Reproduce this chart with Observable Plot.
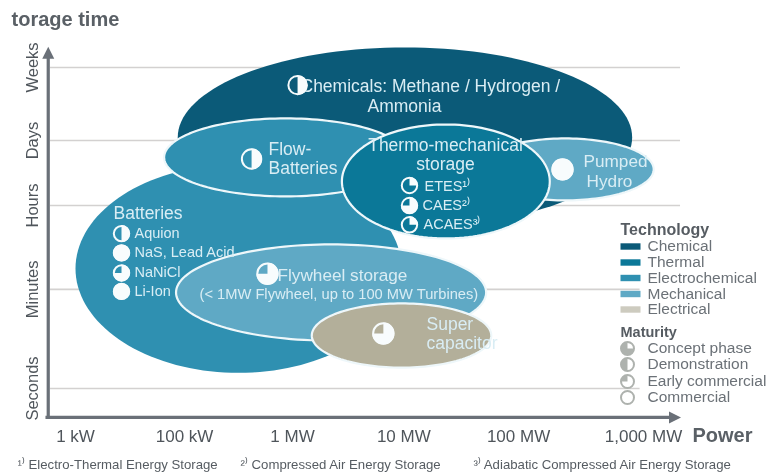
<!DOCTYPE html>
<html>
<head>
<meta charset="utf-8">
<script src="https://cdn.jsdelivr.net/npm/d3@7"></script>
<script src="https://cdn.jsdelivr.net/npm/@observablehq/plot@0.6"></script>
<style>
html,body{margin:0;padding:0;background:#fff;overflow:hidden}
svg{display:block;max-width:none;filter:blur(.55px)}
</style>
</head>
<body>
<div id="chart"></div>
<script>
// Axis categories, positions in power / time steps
const powerLabels = ["1 kW","100 kW","1 MW","10 MW","100 MW","1,000 MW"];
const powerPos = [0,0.96,1.91,2.89,3.90,5];
const timeLabels = ["Seconds","Minutes","Hours","Days","Weeks"];
const timePos = [0,1.235,2.28,3.09,4];

// Technology regions, drawing order
const regionNames = ["Chemical","Batteries","Flow","Pumped","Thermal","Flywheel","Super"];
const regionTech  = ["Chemical","Electrochemical","Electrochemical","Mechanical","Thermal","Mechanical","Electrical"];
const regionPower = [2.90,1.435,1.85,4.31,3.26,2.25,2.87];
const regionTime  = [3.13,1.495,2.88,2.73,2.58,1.196,0.66];
const regionPowerRadius = [2.00,1.435,1.07,0.78,0.915,1.365,0.79];
const regionTimeRadius  = [1.12,1.30,0.486,0.386,0.71,0.60,0.40];

// Maturity balls
const ballNames = ["Chemicals","Flow-Batteries","Pumped Hydro","Aquion","NaS, Lead Acid","NaNiCl","Li-Ion","ETES","CAES","ACAES","Flywheel","Super capacitor"];
const ballPower = [1.955,1.55,4.287,0.405,0.405,0.405,0.405,2.94,2.94,2.94,1.69,2.71];
const ballTime  = [3.78,2.86,2.73,1.93,1.69,1.44,1.21,2.53,2.28,2.04,1.43,0.685];
const ballMaturity = ["Demonstration","Demonstration","Commercial","Demonstration","Commercial","Early commercial","Commercial","Concept phase","Early commercial","Concept phase","Early commercial","Early commercial"];
const ballRadius = [10,10.5,11,8.5,8.5,8.5,8.5,8.5,8.5,8.5,11,11];

// Legend
const techNames = ["Chemical","Thermal","Electrochemical","Mechanical","Electrical"];
const techFill = ["#0b5a78","#0b7898","#2f90b1","#5fa9c5","#b3af9a"];
const maturityNames = ["Concept phase","Demonstration","Early commercial","Commercial"];
const footnotes = ["¹⁾ Electro-Thermal Energy Storage","²⁾ Compressed Air Energy Storage","³⁾ Adiabatic Compressed Air Energy Storage"];

const TAU = 2*Math.PI;
const wedge = (a0,a1) => ({draw(ctx,size){
  const r = Math.sqrt(size/Math.PI);
  if (a1-a0 >= TAU-1e-6) { ctx.moveTo(r,0); ctx.arc(0,0,r,0,TAU); ctx.closePath(); return; }
  ctx.moveTo(0,0); ctx.arc(0,0,r,a0,a1); ctx.closePath();
}});
const maturityShape = {
  "Concept phase": wedge(-Math.PI/2,0),
  "Demonstration": wedge(-Math.PI/2,Math.PI/2),
  "Early commercial": wedge(-Math.PI/2,Math.PI),
  "Commercial": wedge(0,TAU)
};
const legendShape = {
  "Concept phase": wedge(0,Math.PI*1.5),
  "Demonstration": wedge(Math.PI/2,Math.PI*1.5),
  "Early commercial": wedge(Math.PI,Math.PI*1.5)
};
const techColor = Object.fromEntries(techNames.map((t,i)=>[t,techFill[i]]));

// Region outlines traced round each centre and radius pair
const outlines = regionNames.flatMap((name,i)=>d3.range(0,144).map(k=>{
  const t = k/144*TAU;
  return {name,tech:regionTech[i],
    x:regionPower[i]+regionPowerRadius[i]*Math.cos(t),
    y:regionTime[i]+regionTimeRadius[i]*Math.sin(t)};
}));
const balls = ballNames.map((name,i)=>({name,x:ballPower[i],y:ballTime[i],m:ballMaturity[i],r:ballRadius[i]}));

const regionMarks = regionNames.map(n=>{
  const tech = regionTech[regionNames.indexOf(n)];
  return Plot.line(outlines.filter(d=>d.name===n),{x:"x",y:"y",curve:"linear-closed",fill:techColor[tech],
    stroke:n==="Chemical"||n==="Batteries"?"none":"#eef7fa",strokeWidth:2.2});
});

// Page-placed text: left and vertical middle are distances from the frame's top-left corner
const label = (s,left,mid,o={}) => Plot.text([s],{text:d=>d,frameAnchor:"top-left",dx:left,dy:mid,textAnchor:"start",lineAnchor:"middle",fontSize:14,fill:"#5f666d",...o});
const white = "#d9edf4";
const inner = (s,left,mid,size,o={}) => label(s,left,mid,{fill:white,fontSize:size,...o});

const swatch = {draw(ctx,size){ ctx.rect(-10,-3.2,20,6.4); }};
const tipUp = {draw(ctx){ ctx.moveTo(0,0); ctx.lineTo(6,12); ctx.lineTo(-6,12); ctx.closePath(); }};
const tipRight = {draw(ctx){ ctx.moveTo(0,0); ctx.lineTo(-12,6); ctx.lineTo(-12,-6); ctx.closePath(); }};
const axisGrey = "#6a7078";
const techRows = [246,262,277.5,293.5,309];
const maturityRows = [348,364,381,397];

const marks = [
  Plot.ruleY(timePos.slice(2),{y:d=>d,x1:-0.22,x2:5.326,stroke:"#d3d1d0",strokeWidth:1.6}),
  Plot.ruleY(timePos.slice(0,2),{y:d=>d,x1:-0.22,x2:4.97,stroke:"#d3d1d0",strokeWidth:1.6}),
  Plot.ruleX([-0.24],{y1:-0.36,y2:4.2,stroke:axisGrey,strokeWidth:3.2}),
  Plot.ruleY([-0.36],{x1:-0.26,x2:5.25,stroke:axisGrey,strokeWidth:3.2}),
  Plot.dot([{x:-0.24,y:4.26}],{x:"x",y:"y",symbol:tipUp,fill:axisGrey,r:5}),
  Plot.dot([{x:5.33,y:-0.36}],{x:"x",y:"y",symbol:tipRight,fill:axisGrey,r:5}),
  ...regionMarks,

  Plot.text(powerLabels,{text:d=>d,x:(d,i)=>powerPos[i],frameAnchor:"top",dy:436,lineAnchor:"middle",fontSize:17,fill:"#4f555b"}),
  Plot.text(timeLabels,{text:d=>d,y:(d,i)=>timePos[i],frameAnchor:"left",dx:32,rotate:-90,textAnchor:"middle",lineAnchor:"middle",fontSize:16.5,fill:"#4f555b"}),
  label("torage time",11,19,{fontWeight:"bold",fontSize:20,fill:"#5a6066"}),
  label("Power",692,435,{fontWeight:"bold",fontSize:20,fill:"#5a6066"}),

  inner("Chemicals: Methane / Hydrogen /",300,86,17.5),
  inner("Ammonia",404,106,17.5,{textAnchor:"middle"}),
  inner("Flow-",268,149,17.5),
  inner("Batteries",268,168,17.5),
  inner("Thermo-mechanical",445,145,17.5,{textAnchor:"middle"}),
  inner("storage",445,164,17.5,{textAnchor:"middle"}),
  inner("ETES¹⁾",424,186,14.5),
  inner("CAES²⁾",422,205,14.5),
  inner("ACAES³⁾",423,224,14.5),
  inner("Pumped",615,160.5,17.2,{textAnchor:"middle"}),
  inner("Hydro",609,180.5,17.2,{textAnchor:"middle"}),
  inner("Batteries",113,213,17.5),
  inner("Aquion",134,233,14.5),
  inner("NaS, Lead Acid",134,252,14.5),
  inner("NaNiCl",134,272,14.5),
  inner("Li-Ion",134,291,14.5),
  inner("Flywheel storage",277,275,17.2),
  inner("(< 1MW Flywheel, up to 100 MW Turbines)",199,294,14.7),
  inner("Super",426,324,17.5),
  inner("capacitor",426,343,17.5),

  Plot.dot(balls,{x:"x",y:"y",r:d=>d.r-0.8,stroke:"#f6fbfc",strokeWidth:2,fill:"none"}),
  ...maturityNames.map(m=>Plot.dot(balls.filter(d=>d.m===m),{x:"x",y:"y",r:d=>d.r,symbol:maturityShape[m],fill:"#f8fcfd"})),

  label("Technology",620,229,{fontWeight:"bold",fontSize:16,fill:"#565c62"}),
  ...techNames.map((t,i)=>label(t,647,techRows[i],{fontSize:15.5,fill:"#6b7177"})),
  ...techNames.map((t,i)=>Plot.dot([t],{frameAnchor:"top-left",dx:630,dy:techRows[i],symbol:swatch,r:5,fill:t==="Electrical"?"#cdcbbf":techColor[t]})),
  label("Maturity",620,332,{fontWeight:"bold",fontSize:14.5,fill:"#565c62"}),
  ...maturityNames.map((m,i)=>label(m,647,maturityRows[i],{fontSize:15.5,fill:"#6b7177"})),
  ...maturityNames.map((m,i)=>Plot.dot([m],{frameAnchor:"top-left",dx:627,dy:maturityRows[i],r:6.5,fill:"#fff",stroke:"#aeb2ae",strokeWidth:2})),
  ...maturityNames.filter(m=>legendShape[m]).map((m,i)=>Plot.dot([m],{frameAnchor:"top-left",dx:627,dy:maturityRows[i],r:6.5,symbol:legendShape[m],fill:"#aeb2ae"})),

  label(footnotes[0],17,464,{fontSize:13.2,fill:"#565c62"}),
  label(footnotes[1],240,464,{fontSize:13.2,fill:"#565c62"}),
  label(footnotes[2],473,464,{fontSize:13.2,fill:"#565c62"})
];

const chart = Plot.plot({
  width:772,height:476,margin:0,
  style:{fontFamily:"'Liberation Sans',Arial,sans-serif",background:"#fff",overflow:"hidden"},
  x:{axis:null,type:"linear",domain:[0,5],range:[75,643]},
  y:{axis:null,type:"linear",domain:[0,4],range:[388,67]},
  r:{type:"identity"},
  marks
});
document.getElementById("chart").append(chart);
</script>
</body>
</html>
